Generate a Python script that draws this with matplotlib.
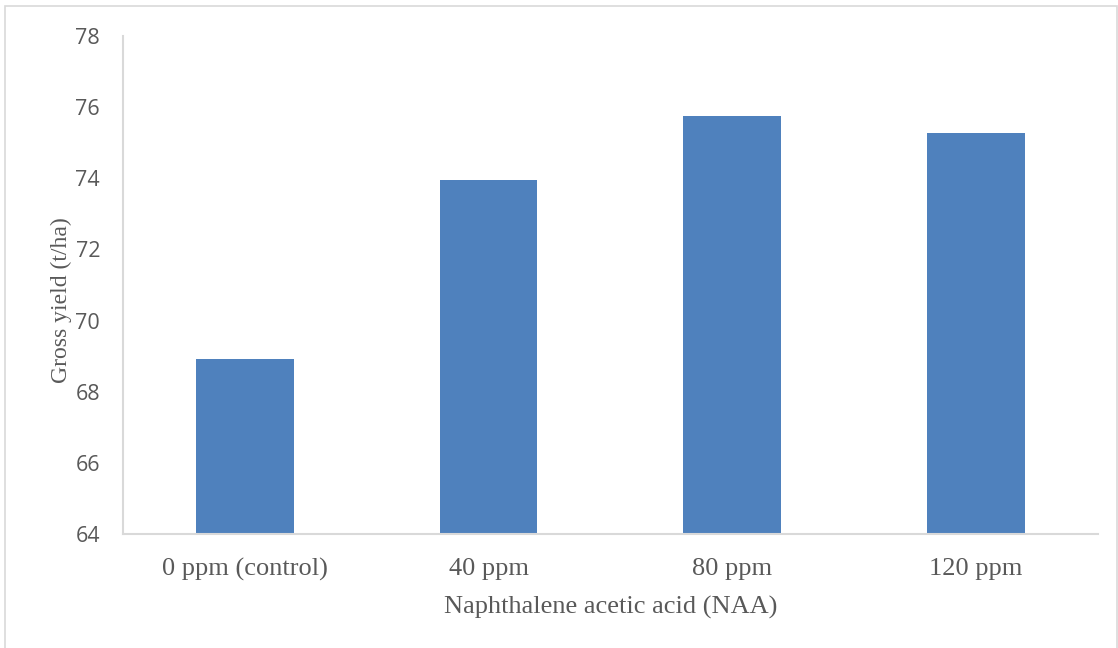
import numpy as np
import matplotlib.pyplot as plt
from matplotlib.patches import Rectangle

# gross yield for each NAA dose
doses = ['0 ppm (control)', '40 ppm', '80 ppm', '120 ppm']
gross_yield = [68.92, 73.94, 75.74, 75.27]
yticks = [64, 66, 68, 70, 72, 74, 76, 78]

W, H = 1118, 648
fig = plt.figure(figsize=(W/100, H/100), dpi=100)
ax = fig.add_axes([123/W, 1-534.3/H, (1097.7-123)/W, (534.3-35.7)/H])

# chart border around the whole figure
fig.patches.append(Rectangle((5/W, -0.01), (1116.5-5)/W, (H-6)/H + 0.01,
                             transform=fig.transFigure, fill=False,
                             edgecolor='#d9d9d9', linewidth=1.2))

x = np.arange(len(doses))
ax.bar(x, gross_yield, width=0.4, color='#4F81BD', zorder=2)

ax.set_xlim(-0.5, len(doses)-0.5)
ax.set_ylim(64, 78)
ax.set_yticks(yticks)
ax.set_yticklabels([str(t) for t in yticks], family='Open Sans',
                   fontsize=15.5, color='#595959')
ax.set_xticks(x)
ax.set_xticklabels(doses, family='Liberation Serif', fontsize=19,
                   color='#595959')
ax.tick_params(axis='y', length=0, pad=16.5)
ax.tick_params(axis='x', length=0, pad=17)

for s in ['top', 'right']:
    ax.spines[s].set_visible(False)
for s in ['left', 'bottom']:
    ax.spines[s].set_color('#d9d9d9')
    ax.spines[s].set_linewidth(1.5)

ax.set_xlabel('Naphthalene acetic acid (NAA)', family='Liberation Serif',
              fontsize=19, color='#595959', labelpad=11)
ax.set_ylabel('Gross yield (t/ha)', family='Liberation Serif',
              fontsize=17, color='#595959')
ax.yaxis.set_label_coords(-0.052, 0.47)

fig.savefig('out.png', dpi=100)
